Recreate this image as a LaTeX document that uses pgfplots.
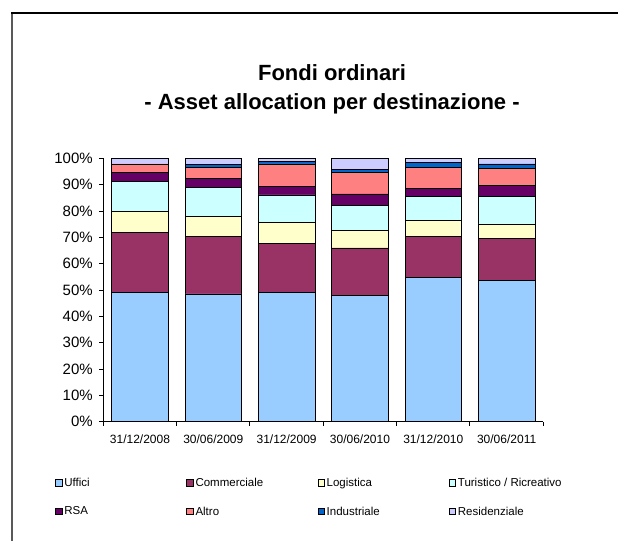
\documentclass[border=0pt]{standalone}
\usepackage{pgfplots}
\usepackage{pgfplotstable}
\pgfplotsset{compat=1.18}
\usepackage{fontspec}
\setmainfont{Liberation Sans}
\setsansfont{Liberation Sans}

\definecolor{cuff}{HTML}{99CCFF}
\definecolor{ccom}{HTML}{993366}
\definecolor{clog}{HTML}{FFFFCC}
\definecolor{ctur}{HTML}{CCFFFF}
\definecolor{crsa}{HTML}{660066}
\definecolor{calt}{HTML}{FF8080}
\definecolor{cind}{HTML}{0066CC}
\definecolor{cres}{HTML}{CCCCFF}

% quote (%) per destinazione, una riga per data
\pgfplotstableread{
x uff com log tur rsa alt ind res
0 49.0 22.9 8.1 11.4 3.3 3.2 0.0 2.1
1 48.5 21.9 7.5 11.2 3.3 4.1 1.3 2.2
2 49.0 18.8 7.8 10.5 3.2 8.6 0.8 1.3
3 48.0 18.0 6.8 9.5 4.2 8.3 1.1 4.1
4 54.8 15.5 6.0 9.4 2.9 7.9 1.9 1.6
5 53.8 15.9 5.4 10.4 4.3 6.3 1.8 2.1
}\data

\newcommand{\lentry}[1]{\makebox[120pt][l]{#1}}

\begin{document}
\begin{tikzpicture}
\path[use as bounding box] (0pt,0pt) rectangle (618pt,541pt);
% cornice del grafico (ritagliata)
\draw[line width=1.5pt, black!65] (12pt,0pt) -- (12pt,528pt);
\draw[line width=1.5pt, black] (11.25pt,528pt) -- (618pt,528pt);

\node[align=center, font=\bfseries\fontsize{22}{29}\selectfont] at (332pt,452pt)
  {Fondi ordinari\\- Asset allocation per destinazione -};

\begin{axis}[
    at={(103.3pt,119.3pt)}, anchor=south west,
    scale only axis,
    width=440pt, height=263.3pt,
    ybar stacked,
    bar width=56.5pt,
    xmin=-0.5, xmax=5.5,
    ymin=0, ymax=100,
    axis x line*=bottom,
    axis y line*=left,
    axis line style={line width=1.3pt, black},
    tick align=outside,
    major tick length=4pt,
    tick style={line width=1pt, black},
    xtick={-0.5,0.5,...,5.5},
    xticklabels={},
    extra x ticks={0,1,2,3,4,5},
    extra x tick labels={31/12/2008,30/06/2009,31/12/2009,30/06/2010,31/12/2010,30/06/2011},
    extra x tick style={major tick length=0pt},
    ytick={0,10,...,100},
    yticklabel={\pgfmathprintnumber{\tick}\%},
    /pgf/number format/assume math mode=true,
    y tick label style={font=\fontsize{15}{17}\selectfont, xshift=-3pt},
    x tick label style={font=\fontsize{12}{14}\selectfont, yshift=-10pt},
    every axis plot/.append style={draw=black, line width=0.7pt},
    legend columns=4,
    legend cell align=left,
    legend image code/.code={\draw[#1, line width=0.7pt] (0pt,-3.2pt) rectangle (6.5pt,3.2pt);},
    legend style={at={(-0.11,-0.205)}, anchor=north west, draw=none, fill=none,
        font=\fontsize{11.5}{13}\selectfont, inner sep=0pt, row sep=15pt,
        /tikz/every even column/.append style={column sep=0pt}},
]
\addplot[fill=cuff] table[x=x, y=uff] {\data};
\addlegendentry{\lentry{Uffici}}
\addplot[fill=ccom] table[x=x, y=com] {\data};
\addlegendentry{\lentry{Commerciale}}
\addplot[fill=clog] table[x=x, y=log] {\data};
\addlegendentry{\lentry{Logistica}}
\addplot[fill=ctur] table[x=x, y=tur] {\data};
\addlegendentry{\lentry{Turistico / Ricreativo}}
\addplot[fill=crsa] table[x=x, y=rsa] {\data};
\addlegendentry{\lentry{RSA}}
\addplot[fill=calt] table[x=x, y=alt] {\data};
\addlegendentry{\lentry{Altro}}
\addplot[fill=cind] table[x=x, y=ind] {\data};
\addlegendentry{\lentry{Industriale}}
\addplot[fill=cres] table[x=x, y=res] {\data};
\addlegendentry{\lentry{Residenziale}}
\end{axis}
\end{tikzpicture}
\end{document}
